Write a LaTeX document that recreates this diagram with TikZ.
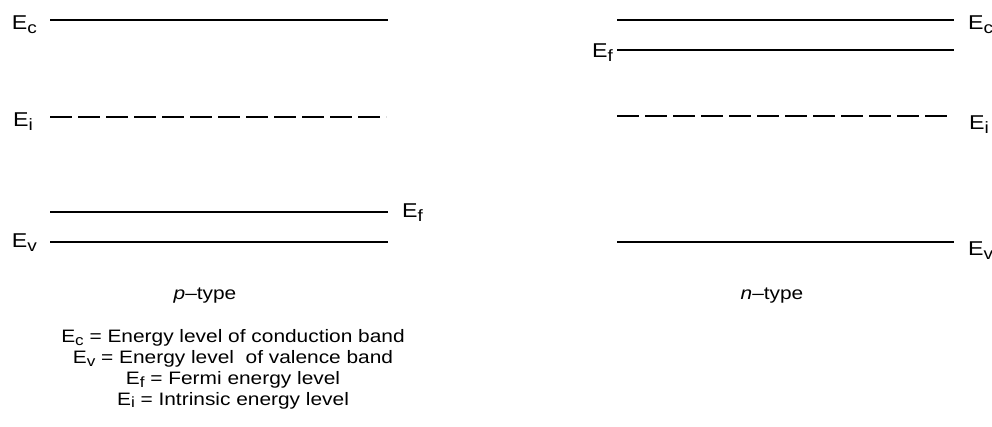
\documentclass[tikz,border=0pt]{standalone}
\usepackage{fontspec}
\setmainfont{Liberation Sans}[FakeStretch=1.16]
\usetikzlibrary{calc}
\tikzstyle{level}=[line width=2.6pt]
\tikzstyle{midlevel}=[level, dash pattern=on 22pt off 6pt]
\tikzstyle{lvllabel}=[inner sep=0pt, font=\fontsize{20}{23}\selectfont]
\tikzstyle{caption}=[inner sep=0pt, font=\fontsize{18}{20.7}\selectfont]
\newcommand{\En}[1]{E\raisebox{-0.3ex}{\scalebox{0.82}{#1}}}
\newcommand{\levelline}[5][level]{% Syntax: [style] {name}{x left}{x right}{y}
  \coordinate (#2-l) at (#3,#5);
  \coordinate (#2-r) at (#4,#5);
  \draw[#1] (#2-l) -- (#2-r);
}
\begin{document}
\begin{tikzpicture}[x=1pt,y=-1pt]
\useasboundingbox (0,0) rectangle (992,427);
% p-type
\levelline{pEc}{50}{388}{20}
\levelline[midlevel]{pEi}{50}{386}{117}
\levelline{pEf}{50}{388}{212}
\levelline{pEv}{50}{388}{242}
\node[lvllabel,anchor=base east] (pEclbl) at ($(pEc-l)+(-13,10)$) {\En{c}};
\node[lvllabel,anchor=base east] (pEilbl) at ($(pEi-l)+(-17,10)$) {\En{i}};
\node[lvllabel,anchor=base west] (pEflbl) at ($(pEf-r)+(14,6)$) {\En{f}};
\node[lvllabel,anchor=base east] (pEvlbl) at ($(pEv-l)+(-13,6)$) {\En{v}};
\node[caption,anchor=base] (ptype) at (205,300) {\textit{p}--type};
% n-type
\levelline{nEc}{617}{954}{20}
\levelline{nEf}{617}{954}{50}
\levelline[midlevel]{nEi}{617}{952}{116}
\levelline{nEv}{617}{954}{242}
\node[lvllabel,anchor=base west] (nEclbl) at ($(nEc-r)+(14,10)$) {\En{c}};
\node[lvllabel,anchor=base east] (nEflbl) at ($(nEf-l)+(-4,8)$) {\En{f}};
\node[lvllabel,anchor=base west] (nEilbl) at ($(nEi-r)+(17,14)$) {\En{i}};
\node[lvllabel,anchor=base west] (nEvlbl) at ($(nEv-r)+(14,14)$) {\En{v}};
\node[caption,anchor=base] (ntype) at (772,300) {\textit{n}--type};
% key (anchored on the last line)
\node[caption,anchor=base,align=center] (key) at (233,405) {%
  \En{c} = Energy level of conduction band\\
  \En{v} = Energy level\ \ of valence band\\
  \En{f} = Fermi energy level\\
  \En{i} = Intrinsic energy level};
\end{tikzpicture}
\end{document}
